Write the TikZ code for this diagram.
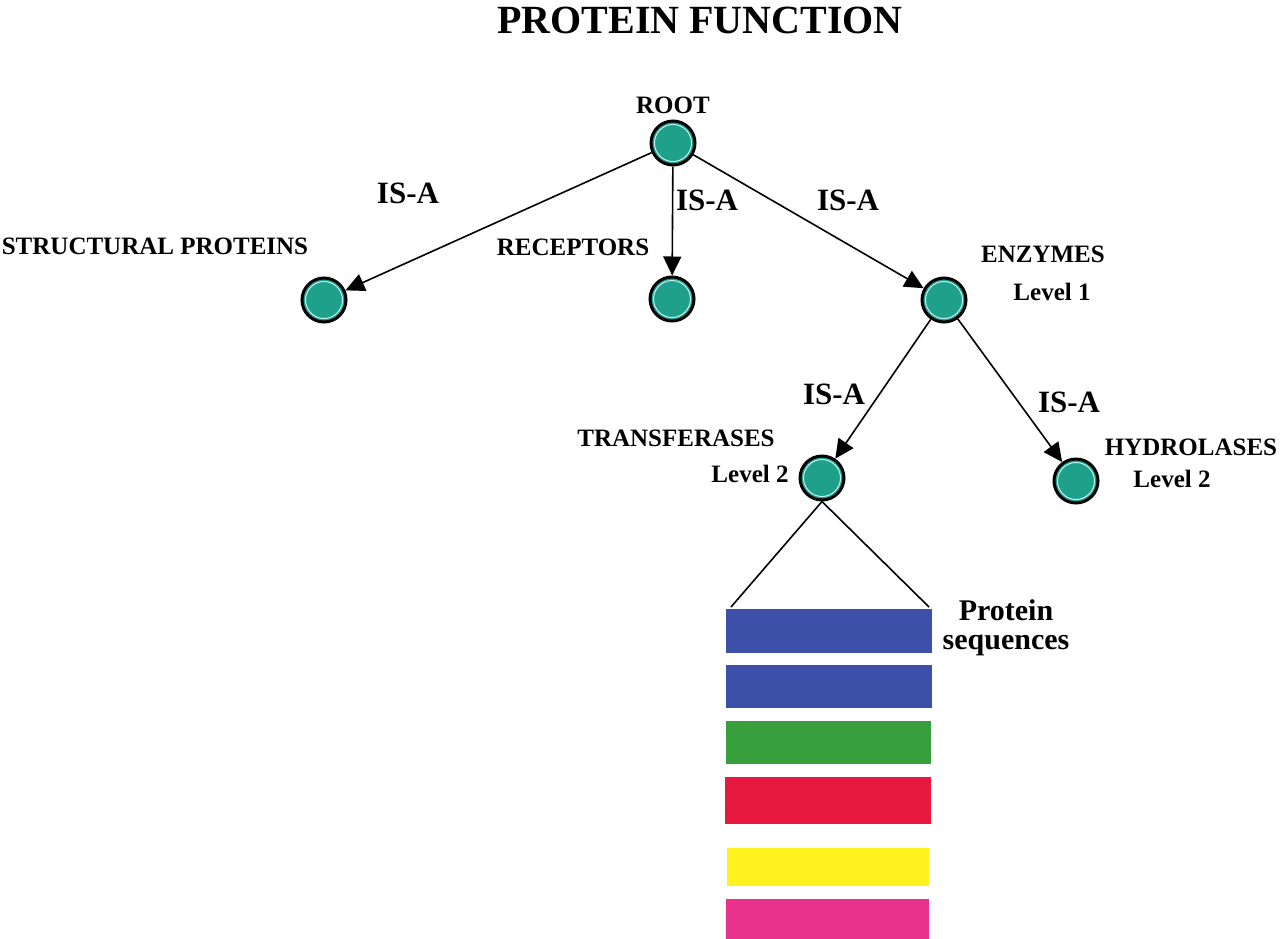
\documentclass[tikz,border=0pt]{standalone}
\usepackage{fontspec}
\setmainfont{Liberation Serif}
\usetikzlibrary{arrows.meta}
\definecolor{teal1}{RGB}{30,160,138}
\definecolor{ring}{RGB}{200,240,245}
\definecolor{barblue}{RGB}{60,80,170}
\definecolor{bargreen}{RGB}{55,160,60}
\definecolor{barred}{RGB}{232,25,65}
\definecolor{baryellow}{RGB}{255,242,30}
\definecolor{barpink}{RGB}{232,50,140}
\tikzset{
  ball/.style={circle, draw=black, line width=3pt, fill=teal1, minimum size=44pt, inner sep=0pt,
    path picture={\draw[ring, line width=1pt] (path picture bounding box.center) circle (18.5pt);}},
  lab/.style={font=\bfseries\fontsize{25}{30}\selectfont, inner sep=0pt},
  isalab/.style={font=\bfseries\fontsize{31}{36}\selectfont, inner sep=0pt},
  isa/.style={line width=1.6pt, -{Triangle[length=19pt,width=18pt]}},
  plain/.style={line width=1.6pt},
  seqbar/.style={draw=none, inner sep=0pt, anchor=north west}
}
\begin{document}
\begin{tikzpicture}[x=1pt,y=-1pt]
\useasboundingbox (0,0) rectangle (1280,938);
\fill[white] (0,0) rectangle (1280,938);
% title
\node[font=\bfseries\fontsize{40}{46}\selectfont, inner sep=0pt] (title) at (700,20) {PROTEIN FUNCTION};
% circles
\node[ball] (root) at (673,143) {};
\node[ball] (struct) at (324,300) {};
\node[ball] (recep) at (672,299) {};
\node[ball] (enz) at (944,300) {};
\node[ball] (trans) at (822,478) {};
\node[ball] (hydro) at (1076,481) {};
% labels
\node[lab] (lroot) at (673,105) {ROOT};
\node[lab] (lstruct) at (155,246) {STRUCTURAL PROTEINS};
\node[lab] (lrecep) at (573,247) {RECEPTORS};
\node[lab] (lenz) at (1043,254) {ENZYMES};
\node[lab] (lenz1) at (1052,292) {Level 1};
\node[lab] (ltrans) at (676,438) {TRANSFERASES};
\node[lab] (ltrans2) at (750,474) {Level 2};
\node[lab] (lhydro) at (1191,447) {HYDROLASES};
\node[lab] (lhydro2) at (1172,479) {Level 2};
% IS-A labels
\node[isalab] (i1) at (408,193) {IS-A};
\node[isalab] (i2) at (707,200) {IS-A};
\node[isalab] (i3) at (848,200) {IS-A};
\node[isalab] (i4) at (834,394) {IS-A};
\node[isalab] (i5) at (1069,402) {IS-A};
% edges
\draw[isa] (root) -- (struct);
\draw[isa] (root) -- (recep);
\draw[isa] (root) -- (enz);
\draw[isa] (enz) -- (trans);
\draw[isa] (enz) -- (hydro);
% sequence bars
\node[seqbar, fill=barblue, minimum width=206pt, minimum height=44pt] (b1) at (726,609) {};
\node[seqbar, fill=barblue, minimum width=206pt, minimum height=43pt] (b2) at (726,665) {};
\node[seqbar, fill=bargreen, minimum width=205pt, minimum height=43pt] (b3) at (726,721) {};
\node[seqbar, fill=barred, minimum width=206pt, minimum height=47pt] (b4) at (725,777) {};
\node[seqbar, fill=baryellow, minimum width=202pt, minimum height=38pt] (b5) at (727,848) {};
\node[seqbar, fill=barpink, minimum width=203pt, minimum height=42pt] (b6) at (726,899) {};
\coordinate (bl) at (731,607);
\coordinate (br) at (929,607);
\draw[plain] (trans.south) -- (bl);
\draw[plain] (trans.south) -- (br);
\node[font=\bfseries\fontsize{30}{29}\selectfont, align=center, inner sep=0pt] (seq) at (1006,628) {Protein\\sequences};
\end{tikzpicture}
\end{document}
